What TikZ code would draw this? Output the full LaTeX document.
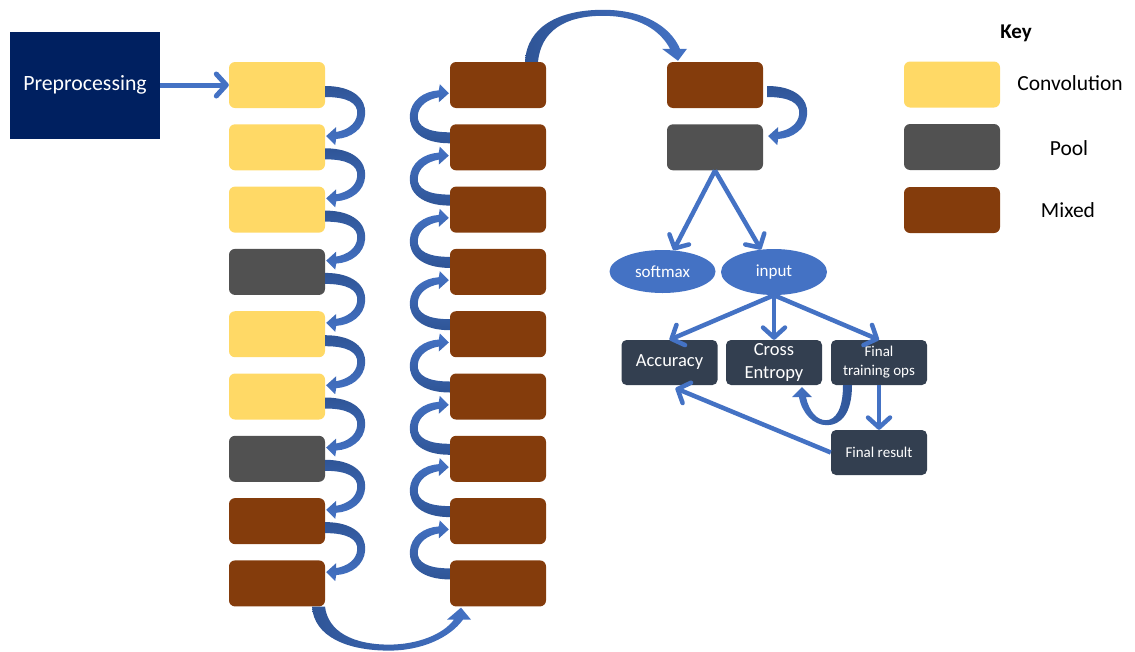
\documentclass[tikz,border=0pt]{standalone}
\usepackage{fontspec}
\setmainfont{Carlito}
\usetikzlibrary{arrows.meta,shapes.geometric}
\definecolor{conv}{HTML}{FFD966}
\definecolor{pool}{HTML}{515151}
\definecolor{mixed}{HTML}{843C0C}
\definecolor{navy}{HTML}{002060}
\definecolor{slate}{HTML}{333F50}
\definecolor{arrdark}{HTML}{2F5597}
\definecolor{arrlite}{HTML}{4472C4}
\tikzset{
  blk/.style={rectangle, rounded corners=6pt, minimum width=96pt, minimum height=46pt, inner sep=0pt},
  convbox/.style={blk, fill=conv},
  poolbox/.style={blk, fill=pool},
  mixbox/.style={blk, fill=mixed},
  opbox/.style={rectangle, rounded corners=5pt, fill=slate, text=white, minimum width=96pt, minimum height=45pt, inner sep=0pt, align=center},
  tensor/.style={ellipse, fill=arrlite, text=white, inner sep=0pt, font=\fontsize{17}{20}\selectfont},
  flow/.style={draw=arrlite, line width=4.5pt, -{Straight Barb[length=10pt,width=22pt,round]}},
  % fat bent arrow, bulging right, pointing back down-left
  bendr/.pic={
    \shade[top color=arrdark, bottom color=arrlite]
      (0,1) .. controls (28,1) and (41,14) .. (40,29) .. controls (39,44) and (26,53) .. (11,54)
      -- (10,60) -- (1,51) -- (11,42) -- (11,47)
      .. controls (22,45) and (31,39) .. (32,29) .. controls (33,18) and (22,12) .. (0,12) -- cycle;
  },
  % same arrow turned over, bulging left, pointing back up-right
  bendl/.pic={
    \shade[top color=arrlite, bottom color=arrdark]
      (0,-1) .. controls (-28,-1) and (-41,-14) .. (-40,-29) .. controls (-39,-44) and (-26,-53) .. (-11,-54)
      -- (-10,-60) -- (-1,-51) -- (-11,-42) -- (-11,-47)
      .. controls (-22,-45) and (-31,-39) .. (-32,-29) .. controls (-33,-18) and (-22,-12) .. (0,-12) -- cycle;
  },
}
\begin{document}
\begin{tikzpicture}[x=1pt,y=-1pt]
  \useasboundingbox (0,0) rectangle (1135,651);
  \node[rectangle, fill=navy, text=white, minimum width=150pt, minimum height=107pt,
        font=\fontsize{21.8}{26}\selectfont] (pre) at (85,85) {Preprocessing};
  \path
    (277,85.0) node[convbox] (l1){}
    (277,147.3) node[convbox] (l2){}
    (277,209.6) node[convbox] (l3){}
    (277,271.9) node[poolbox] (l4){}
    (277,334.2) node[convbox] (l5){}
    (277,396.5) node[convbox] (l6){}
    (277,458.8) node[poolbox] (l7){}
    (277,521.1) node[mixbox] (l8){}
    (277,583.4) node[mixbox] (l9){};
  \path
    (498,85.0) node[mixbox] (r1){}
    (498,147.3) node[mixbox] (r2){}
    (498,209.6) node[mixbox] (r3){}
    (498,271.9) node[mixbox] (r4){}
    (498,334.2) node[mixbox] (r5){}
    (498,396.5) node[mixbox] (r6){}
    (498,458.8) node[mixbox] (r7){}
    (498,521.1) node[mixbox] (r8){}
    (498,583.4) node[mixbox] (r9){};
  \path
    (715,85.0) node[mixbox] (m1){}
    (715,147.3) node[poolbox] (m2){};
  \path
    (662.5,271.5) node[tensor, minimum width=106pt, minimum height=43pt] (sm){softmax}
    (774,272) node[tensor, minimum width=106pt, minimum height=46pt] (in){input};
  \path
    (669.5,362.5) node[opbox, font=\fontsize{18.5}{23}\selectfont] (acc){Accuracy}
    (774,362.5) node[opbox, font=\fontsize{18.5}{23}\selectfont] (ce){Cross\\Entropy}
    (879,362.5) node[opbox, font=\fontsize{15}{19}\selectfont] (ft){Final\\training ops}
    (879,452.5) node[opbox, font=\fontsize{15}{18}\selectfont] (fr){Final result};
  % key
  \path
    (1016,33) node[font=\fontsize{21}{24}\selectfont\bfseries] (key){Key}
    (952,84.5) node[convbox] (kc){}
    (952,147) node[poolbox] (kp){}
    (952,210) node[mixbox] (km){}
    (1070,83) node[font=\fontsize{21.5}{24}\selectfont] (kct){Convolution}
    (1069,148) node[font=\fontsize{21.5}{24}\selectfont] (kpt){Pool}
    (1068,210) node[font=\fontsize{21.5}{24}\selectfont] (kmt){Mixed};
  % straight flows
  \draw[flow, line width=5pt] (pre) -- (l1);
  \draw[flow] (m2.south) -- (sm);
  \draw[flow] (m2.south) -- (in);
  \draw[flow] (in.south) -- (acc.north);
  \draw[flow] (in.south) -- (ce.north);
  \draw[flow] (in.south) -- (ft.north);
  \draw[flow] (ft.south) -- (fr.north);
  \draw[flow] (fr.west) -- ([xshift=6pt,yshift=-3pt]acc.south);
  % bent flows down the first column and up the second
  \path (l1.east) pic {bendr} (l2.east) pic {bendr} (l3.east) pic {bendr} (l4.east) pic {bendr}
        (l5.east) pic {bendr} (l6.east) pic {bendr} (l7.east) pic {bendr} (l8.east) pic {bendr};
  \path ([yshift=3pt]r2.west) pic {bendl} ([yshift=3pt]r3.west) pic {bendl} ([yshift=3pt]r4.west) pic {bendl}
        ([yshift=3pt]r5.west) pic {bendl} ([yshift=3pt]r6.west) pic {bendl} ([yshift=3pt]r7.west) pic {bendl}
        ([yshift=3pt]r8.west) pic {bendl} ([yshift=3pt]r9.west) pic {bendl};
  \path ([xshift=4pt]m1.east) pic {bendr};
  % jumps between columns
  \shade[shift={(l9.south)}, left color=arrdark, right color=arrlite]
    (35,0) .. controls (37,30) and (70,44) .. (112,44) .. controls (145,44) and (173,31) .. (186,13)
    -- (194,13) -- (184,1) -- (170,13) -- (177,13)
    .. controls (166,28) and (140,38) .. (112,38) .. controls (76,38) and (51,25) .. (48,0) -- cycle;
  \shade[shift={(r1.north)}, left color=arrdark, right color=arrlite]
    (27,0) .. controls (29,-36) and (62,-52) .. (105,-52) .. controls (145,-52) and (172,-36) .. (182,-13)
    -- (189,-13) -- (180,-1) -- (164,-13) -- (172,-13)
    .. controls (162,-32) and (140,-46) .. (105,-46) .. controls (67,-46) and (43,-31) .. (40,0) -- cycle;
  % loss loops back
  \shade[shift={(ft.south)}, left color=arrlite, right color=arrdark]
    (-27,0) .. controls (-27,28) and (-38,40) .. (-52,40) .. controls (-66,40) and (-77,28) .. (-80,12)
    -- (-87,12) -- (-77,2) -- (-67,12) -- (-73,12)
    .. controls (-70,26) and (-62,35) .. (-53,35) .. controls (-44,35) and (-36,25) .. (-36,0) -- cycle;
\end{tikzpicture}
\end{document}
